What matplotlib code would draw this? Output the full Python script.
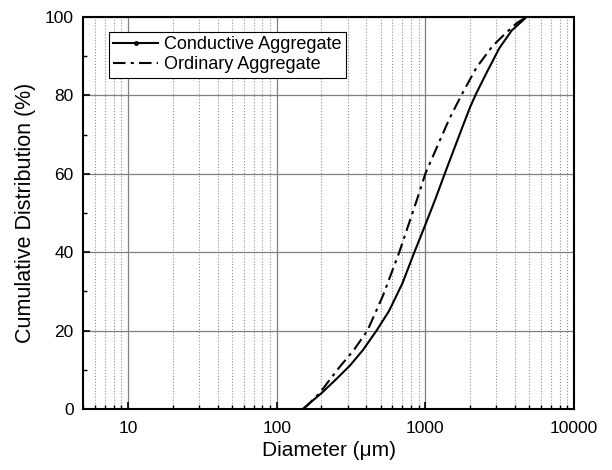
import numpy as np
import matplotlib.pyplot as plt
from matplotlib.lines import Line2D
from matplotlib.ticker import FixedLocator, LogLocator, NullFormatter

plt.rcParams['font.family'] = ['Liberation Sans', 'DejaVu Sans']

# data
cond_d = [150, 200, 250, 310, 380, 470, 570, 700, 844, 1000, 1167, 1350,
          1567, 1800, 2000, 2200, 2600, 3140, 3800, 4800]
cond_cum = [0, 4, 7.5, 11, 15, 20, 25, 32, 40, 47, 53.5, 60,
            66.5, 72.5, 77, 80.5, 86, 92, 96.5, 100]

ord_d = [152, 194, 265, 330, 408, 520, 668, 871, 1000, 1203, 1450, 1746,
         2200, 2820, 3500, 4140, 4800]
ord_cum = [0, 4, 10.7, 15, 20, 29, 40, 53, 60, 67, 74, 80,
           87, 92.5, 96, 98.5, 100]

x_ticks = [10, 100, 1000, 10000]
x_labels = ['10', '100', '1000', '10000']
y_ticks = [0, 20, 40, 60, 80, 100]

dashdot = (0, (6, 2.5, 1.5, 2.5))

fig = plt.figure(figsize=(6.12, 4.70), dpi=100)
ax = fig.add_axes([0.136, 0.13, 0.802, 0.834])

ax.plot(cond_d, cond_cum, color='black', lw=1.5, ls='-')
ax.plot(ord_d, ord_cum, color='black', lw=1.5, ls=dashdot)

ax.set_xscale('log')
ax.set_xlim(5, 10000)
ax.set_ylim(0, 100)
ax.set_xticks(x_ticks)
ax.set_xticklabels(x_labels)
ax.xaxis.set_minor_locator(LogLocator(base=10, subs=np.arange(2, 10)))
ax.xaxis.set_minor_formatter(NullFormatter())
ax.set_yticks(y_ticks)
ax.yaxis.set_minor_locator(FixedLocator([10, 30, 50, 70, 90]))

ax.grid(which='major', axis='both', color='#808080', lw=0.9, ls='-')
ax.grid(which='minor', axis='x', color='#909090', lw=0.8, ls=':')
ax.set_axisbelow(True)

ax.tick_params(which='both', direction='in', top=False, right=False,
               labelsize=12.5)
ax.tick_params(axis='x', which='major', pad=9)
ax.tick_params(axis='y', which='major', pad=7)
ax.tick_params(which='major', length=5, width=1.2)
ax.tick_params(which='minor', length=3, width=1.0)
for s in ax.spines.values():
    s.set_linewidth(1.5)

ax.set_xlabel('Diameter (\u03bcm)', fontsize=15, labelpad=3)
ax.set_ylabel('Cumulative Distribution (%)', fontsize=15.5, labelpad=6)

handles = [Line2D([], [], color='black', lw=1.5, ls='-', marker='o', ms=2.5),
           Line2D([], [], color='black', lw=1.5, ls=dashdot)]
leg = ax.legend(handles, ['Conductive Aggregate', 'Ordinary Aggregate'],
                loc='upper left', bbox_to_anchor=(0.052, 0.962), fontsize=13,
                frameon=True, fancybox=False, handlelength=2.5,
                handletextpad=0.3, borderpad=0.25, labelspacing=0.15,
                borderaxespad=0, numpoints=1)
leg.get_frame().set_edgecolor('black')
leg.get_frame().set_linewidth(0.8)
leg.get_frame().set_alpha(1)

fig.savefig('out.png', dpi=100)
